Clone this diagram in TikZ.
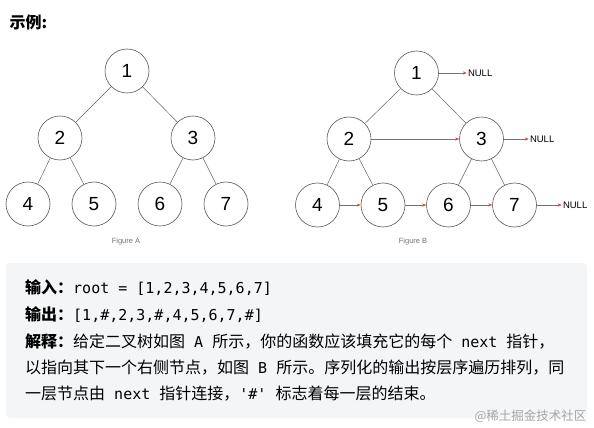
\documentclass[tikz,border=0pt]{standalone}
\usepackage{fontspec}
\setmainfont{Liberation Sans}
\setmonofont{DejaVu Sans Mono}
\newfontfamily\cjk{Noto Sans CJK SC}
\usepackage{tikz}
\usetikzlibrary{arrows.meta, positioning}

\definecolor{nextred}{HTML}{E8413E}
\definecolor{boxgray}{HTML}{F4F5F6}
\newcommand{\code}[1]{{\ttfamily\fontsize{15}{15}\selectfont #1}}

\begin{document}
\begin{tikzpicture}[x=1pt, y=-1pt, >={Stealth[length=4pt, width=3.2pt]},
  tnode/.style={circle, draw=black!65, line width=0.6pt, minimum size=44pt, inner sep=0pt, on grid, font=\fontsize{19}{19}\selectfont},
  edge/.style={draw=black!60, line width=0.5pt},
  nextarr/.style={->, draw=nextred, line width=0.6pt},
  nulltext/.style={inner sep=1pt, font=\fontsize{9.5}{10}\selectfont},
  figcap/.style={text=black!55, font=\fontsize{7.5}{8}\selectfont},
  txtline/.style={anchor=west, inner sep=0pt, font=\cjk\fontsize{16}{16}\selectfont}]
  \useasboundingbox[fill=white] (0,0) rectangle (594,428);

  \node[anchor=west, font=\cjk\bfseries\fontsize{16}{16}\selectfont] (title) at (6,22) {示例:};

  % Figure A
  \node[tnode] (a1) at (127,71) {1};
  \node[tnode, below left=67pt and 67pt of a1] (a2) {2};
  \node[tnode, below right=67pt and 66pt of a1] (a3) {3};
  \node[tnode, below left=66pt and 32pt of a2] (a4) {4};
  \node[tnode, below right=66pt and 34pt of a2] (a5) {5};
  \node[tnode, below left=66pt and 33pt of a3] (a6) {6};
  \node[tnode, below right=66pt and 33pt of a3] (a7) {7};
  \draw[edge] (a1) -- (a2);
  \draw[edge] (a1) -- (a3);
  \draw[edge] (a2) -- (a4);
  \draw[edge] (a2) -- (a5);
  \draw[edge] (a3) -- (a6);
  \draw[edge] (a3) -- (a7);
  \node[figcap] (capA) at (126,242) {Figure A};

  % Figure B
  \node[tnode] (b1) at (416.5,73) {1};
  \node[tnode, below left=66pt and 67.5pt of b1] (b2) {2};
  \node[tnode, below right=66pt and 65pt of b1] (b3) {3};
  \node[tnode, below left=66pt and 31.5pt of b2] (b4) {4};
  \node[tnode, below right=66pt and 34pt of b2] (b5) {5};
  \node[tnode, below left=66pt and 33pt of b3] (b6) {6};
  \node[tnode, below right=66pt and 33pt of b3] (b7) {7};
  \draw[edge] (b1) -- (b2);
  \draw[edge] (b1) -- (b3);
  \draw[edge] (b2) -- (b4);
  \draw[edge] (b2) -- (b5);
  \draw[edge] (b3) -- (b6);
  \draw[edge] (b3) -- (b7);
  \node[nulltext, right=28pt of b1] (n1) {NULL};
  \node[nulltext, right=25pt of b3] (n3) {NULL};
  \node[nulltext, right=25pt of b7] (n7) {NULL};
  \draw[nextarr] (b1) -- (n1);
  \draw[nextarr] (b3) -- (n3);
  \draw[nextarr] (b7) -- (n7);
  \draw[nextarr] (b2) -- (b3);
  \draw[nextarr] (b4) -- (b5);
  \draw[nextarr] (b5) -- (b6);
  \draw[nextarr] (b6) -- (b7);
  \node[figcap] (capB) at (413,242) {Figure B};

  % example text
  \fill[boxgray, rounded corners=4pt] (6,263) rectangle (587,418);
  \node[txtline] (l1) at (25,288) {\textbf{输入：}\code{root = [1,2,3,4,5,6,7]}};
  \node[txtline] (l2) at (25,315) {\textbf{输出：}\code{[1,\#,2,3,\#,4,5,6,7,\#]}};
  \node[txtline] (l3) at (25,342) {\textbf{解释：}给定二叉树如图\code{\ A\ }所示，你的函数应该填充它的每个\code{\ next\ }指针，};
  \node[txtline] (l4) at (25,368) {以指向其下一个右侧节点，如图\code{\ B\ }所示。序列化的输出按层序遍历排列，同};
  \node[txtline] (l5) at (25,394) {一层节点由\code{\ next\ }指针连接，\code{'\#'\ }标志着每一层的结束。};
  \node[anchor=east, text=black!35, font=\cjk\fontsize{12.5}{13}\selectfont] (wm) at (590,416) {@稀土掘金技术社区};
\end{tikzpicture}
\end{document}
